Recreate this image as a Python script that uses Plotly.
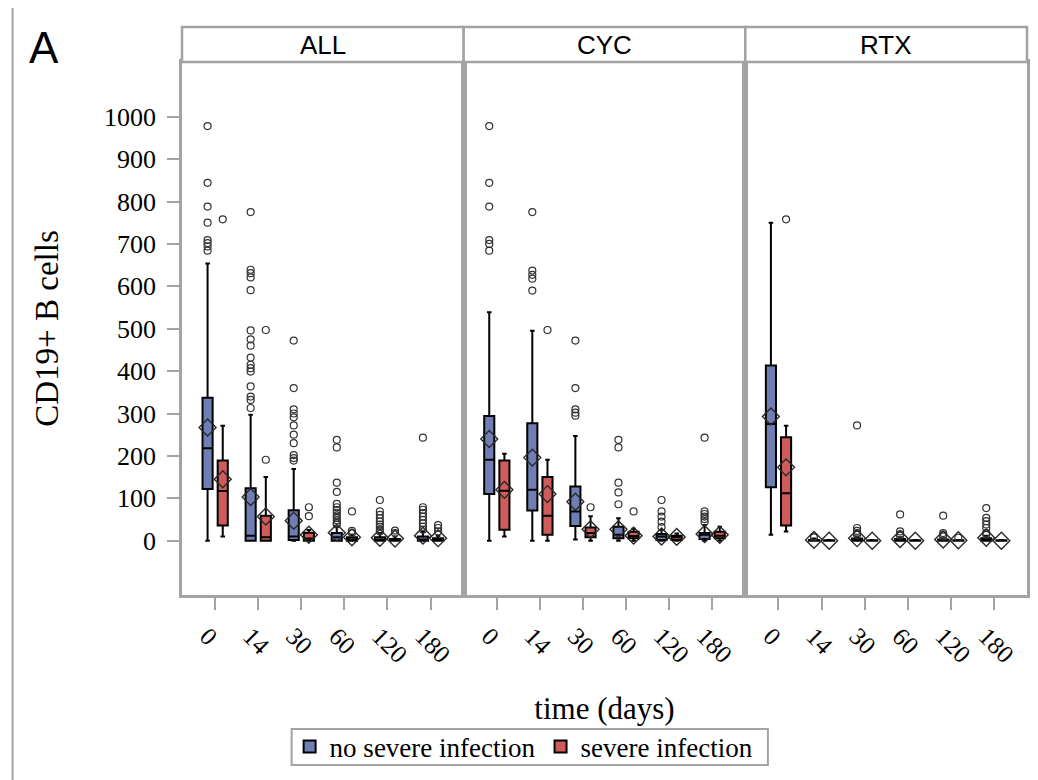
import plotly.graph_objects as go
from plotly.subplots import make_subplots

DAYS = ["0", "14", "30", "60", "120", "180"]
PANELS = ["ALL", "CYC", "RTX"]
GROUPS = ["no severe infection", "severe infection"]
COLORS = ["#6F7EB3", "#D05B5B"]

# ---- ALL : no severe infection
ALL_NO_LO = [0, 0, 0, 0, 0, 0]
ALL_NO_Q1 = [122, 0, 2, 0, 0, 0]
ALL_NO_MED = [218, 12, 10, 8, 2, 3]
ALL_NO_Q3 = [337, 124, 72, 18, 8, 10]
ALL_NO_HI = [654, 297, 169, 33, 18, 22]
ALL_NO_MEAN = [267, 103, 47, 19, 7, 12]
ALL_NO_OUT = [
    [978, 844, 788, 750, 709, 702, 694, 684],
    [775, 639, 631, 621, 591, 496, 475, 460, 432, 415, 407, 399, 364, 340, 332, 313],
    [472, 360, 310, 300, 291, 272, 250, 230, 202, 195, 189],
    [238, 220, 137, 115, 87, 79, 72, 66, 60, 54, 48, 42, 38],
    [96, 69, 61, 53, 45, 38, 33, 26, 22],
    [243, 79, 73, 65, 57, 49, 41, 33, 26],
]
# ---- ALL : severe infection
ALL_SEV_LO = [10, 0, 0, 0, 0, 0]
ALL_SEV_Q1 = [36, 0, 0, 0, 0, 0]
ALL_SEV_MED = [117, 8, 5, 3, 1, 2]
ALL_SEV_Q3 = [189, 59, 19, 8, 4, 6]
ALL_SEV_HI = [271, 150, 25, 14, 10, 12]
ALL_SEV_MEAN = [145, 57, 14, 8, 5, 6]
ALL_SEV_OUT = [[758], [497, 191], [79, 58], [69, 23, 18], [24, 18], [37, 30, 22]]

# ---- CYC : no severe infection
CYC_NO_LO = [0, 0, 3, 0, 0, 0]
CYC_NO_Q1 = [110, 71, 35, 6, 2, 4]
CYC_NO_MED = [191, 120, 69, 14, 10, 14]
CYC_NO_Q3 = [294, 277, 128, 33, 16, 18]
CYC_NO_HI = [539, 495, 247, 53, 25, 37]
CYC_NO_MEAN = [240, 196, 92, 27, 10, 16]
CYC_NO_OUT = [
    [978, 844, 788, 709, 700, 684],
    [775, 637, 627, 618, 590],
    [472, 360, 310, 302, 295],
    [238, 220, 137, 114, 86],
    [96, 69, 57, 45, 32],
    [243, 69, 63, 57, 51, 44],
]
# ---- CYC : severe infection
CYC_SEV_LO = [10, 0, 0, 0, 0, 0]
CYC_SEV_Q1 = [26, 14, 8, 6, 2, 6]
CYC_SEV_MED = [118, 59, 18, 11, 8, 12]
CYC_SEV_Q3 = [189, 150, 31, 21, 12, 21]
CYC_SEV_HI = [205, 191, 58, 28, 17, 33]
CYC_SEV_MEAN = [120, 110, 27, 12, 9, 14]
CYC_SEV_OUT = [[], [497], [79], [69], [], []]

# ---- RTX : no severe infection
RTX_NO_LO = [14, 0, 0, 0, 0, 0]
RTX_NO_Q1 = [126, 0, 0, 0, 0, 0]
RTX_NO_MED = [275, 0, 2, 1, 1, 2]
RTX_NO_Q3 = [413, 2, 5, 4, 3, 6]
RTX_NO_HI = [750, 5, 10, 8, 6, 12]
RTX_NO_MEAN = [293, 2, 6, 4, 3, 7]
RTX_NO_OUT = [
    [],
    [10, 8],
    [272, 30, 23, 18, 14],
    [62, 22, 15, 12],
    [59, 18, 13, 10],
    [77, 54, 46, 38, 30, 18, 14],
]
# ---- RTX : severe infection
RTX_SEV_LO = [22, 0, 0, 0, 0, 0]
RTX_SEV_Q1 = [36, 0, 0, 0, 0, 0]
RTX_SEV_MED = [112, 0, 0, 0, 0, 0]
RTX_SEV_Q3 = [244, 1, 1, 1, 1, 1]
RTX_SEV_HI = [271, 2, 2, 2, 2, 2]
RTX_SEV_MEAN = [173, 0, 0, 0, 1, 0]
RTX_SEV_OUT = [[758], [], [], [], [7], []]

Y_TICKS = list(range(0, 1001, 100))

TABLE = {
    "ALL": [
        (ALL_NO_LO, ALL_NO_Q1, ALL_NO_MED, ALL_NO_Q3, ALL_NO_HI, ALL_NO_MEAN, ALL_NO_OUT),
        (ALL_SEV_LO, ALL_SEV_Q1, ALL_SEV_MED, ALL_SEV_Q3, ALL_SEV_HI, ALL_SEV_MEAN, ALL_SEV_OUT),
    ],
    "CYC": [
        (CYC_NO_LO, CYC_NO_Q1, CYC_NO_MED, CYC_NO_Q3, CYC_NO_HI, CYC_NO_MEAN, CYC_NO_OUT),
        (CYC_SEV_LO, CYC_SEV_Q1, CYC_SEV_MED, CYC_SEV_Q3, CYC_SEV_HI, CYC_SEV_MEAN, CYC_SEV_OUT),
    ],
    "RTX": [
        (RTX_NO_LO, RTX_NO_Q1, RTX_NO_MED, RTX_NO_Q3, RTX_NO_HI, RTX_NO_MEAN, RTX_NO_OUT),
        (RTX_SEV_LO, RTX_SEV_Q1, RTX_SEV_MED, RTX_SEV_Q3, RTX_SEV_HI, RTX_SEV_MEAN, RTX_SEV_OUT),
    ],
}

SERIF = "Liberation Serif, Times New Roman, serif"
SANS = "Liberation Sans, Arial, sans-serif"
GRAY = "#a3a3a3"
OFFSETS = [-0.176, 0.176]
BOX_W = 0.235

fig = make_subplots(rows=1, cols=3, shared_yaxes=True, horizontal_spacing=0)

for pi, panel in enumerate(PANELS):
    for gi, group in enumerate(GROUPS):
        lo, q1, med, q3, hi, mean, outs = TABLE[panel][gi]
        xs = [i + OFFSETS[gi] for i in range(len(DAYS))]
        fig.add_trace(go.Box(
            x=xs, q1=q1, median=med, q3=q3, lowerfence=lo, upperfence=hi,
            width=BOX_W, fillcolor=COLORS[gi],
            line=dict(color="black", width=2), whiskerwidth=0.45,
            boxpoints=False, name=group, legendgroup=group,
            showlegend=(pi == 0), hoverinfo="skip"), row=1, col=pi + 1)
        ox, oy = [], []
        for i, vals in enumerate(outs):
            for v in vals:
                ox.append(xs[i])
                oy.append(v)
        fig.add_trace(go.Scatter(
            x=ox, y=oy, mode="markers", showlegend=False, hoverinfo="skip",
            marker=dict(symbol="circle-open", size=7, color="#333333",
                        line=dict(width=1.2))), row=1, col=pi + 1)
        fig.add_trace(go.Scatter(
            x=xs, y=mean, mode="markers", showlegend=False, hoverinfo="skip",
            marker=dict(symbol="diamond-open", size=13, color="#2a2a2a",
                        line=dict(width=1.4))), row=1, col=pi + 1)

for k in range(1, 4):
    fig.update_xaxes(
        range=[-0.77, 5.77], tickmode="array", tickvals=list(range(len(DAYS))),
        ticktext=DAYS, tickangle=45, ticks="outside", ticklen=12, tickwidth=2,
        tickcolor=GRAY, showline=True, mirror=True, linecolor=GRAY, linewidth=2.5,
        showgrid=False, zeroline=False, ticklabelshift=-8, ticklabelstandoff=2,
        tickfont=dict(family=SERIF, size=25, color="black"), row=1, col=k)
    fig.update_yaxes(
        range=[-128, 1129], showline=True, mirror=True, linecolor=GRAY,
        linewidth=2.5, showgrid=False, zeroline=False, row=1, col=k)

fig.update_yaxes(
    tickmode="array", tickvals=Y_TICKS, ticks="outside", ticklen=12, tickwidth=2,
    tickcolor=GRAY, tickfont=dict(family=SERIF, size=26, color="black"),
    ticklabelstandoff=6,
    title=dict(text="CD19+ B cells", font=dict(family=SERIF, size=33, color="black"),
               standoff=36), row=1, col=1)
fig.update_yaxes(ticks="", showticklabels=False, row=1, col=2)
fig.update_yaxes(ticks="", showticklabels=False, row=1, col=3)
fig.update_xaxes(title=dict(text="time (days)",
                            font=dict(family=SERIF, size=31, color="black"),
                            standoff=31), row=1, col=2)

# paper coordinate helpers in reference-pixel terms
# (plot area spans x 182..1030 px and y 62..595 px of the reference picture)
def px_x(p):
    return (p - 182) / 848.0

def px_y(p):
    return (595 - p) / 533.0

shapes = [dict(type="rect", xref="paper", yref="paper",
               x0=px_x(12), x1=px_x(1036), y0=px_y(800), y1=px_y(7),
               line=dict(color=GRAY, width=2), layer="below"),
          dict(type="rect", xref="paper", yref="paper",
               x0=px_x(292), x1=px_x(770), y0=px_y(765), y1=px_y(729),
               line=dict(color=GRAY, width=2), layer="below")]
annotations = []
for pi, panel in enumerate(PANELS):
    d = fig.layout["xaxis" + ("" if pi == 0 else str(pi + 1))].domain
    shapes.append(dict(type="rect", xref="paper", yref="paper",
                       x0=d[0], x1=d[1], y0=1, y1=px_y(27),
                       line=dict(color=GRAY, width=2.5), fillcolor="white"))
    annotations.append(dict(text=panel, xref="paper", yref="paper",
                            x=(d[0] + d[1]) / 2, y=px_y(44.5), xanchor="center",
                            yanchor="middle", showarrow=False,
                            font=dict(family=SANS, size=26, color="black")))
annotations.append(dict(text="A", xref="paper", yref="paper", x=px_x(43.5),
                        y=px_y(47), xanchor="center", yanchor="middle",
                        showarrow=False,
                        font=dict(family=SANS, size=44, color="black")))

# the page body adds an 8 px offset, so the figure is 8 px smaller each way
fig.update_layout(
    width=1030, height=772,
    margin=dict(l=174, r=8, t=54, b=185),
    paper_bgcolor="white", plot_bgcolor="white",
    boxmode="overlay",
    font=dict(family=SERIF, color="black"),
    shapes=shapes, annotations=annotations,
    legend=dict(orientation="h", x=px_x(290), xanchor="left",
                y=px_y(747), yanchor="middle", borderwidth=0,
                bgcolor="rgba(0,0,0,0)",
                font=dict(family=SERIF, size=27, color="black"),
                itemclick=False, itemdoubleclick=False),
)

fig.write_html("out.html")
